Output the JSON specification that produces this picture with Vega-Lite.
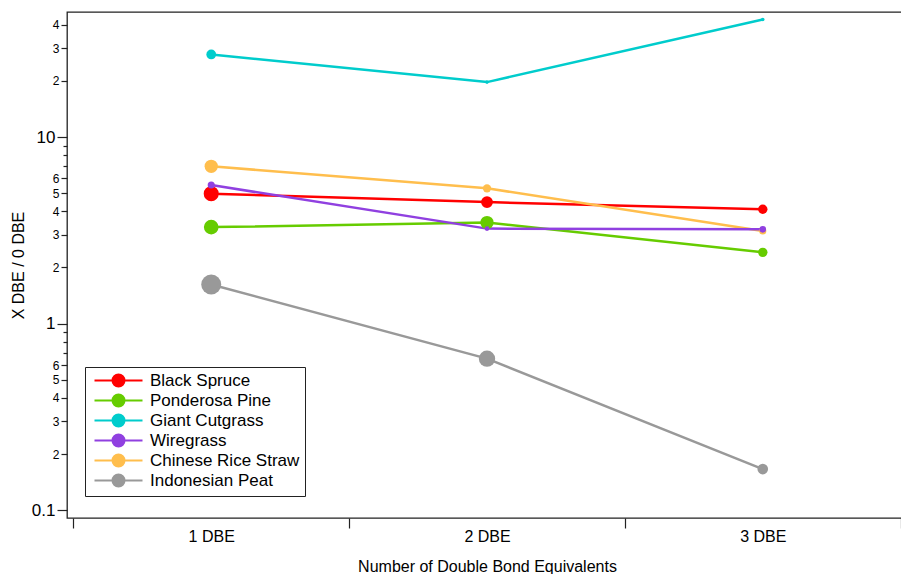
{
  "$schema": "https://vega.github.io/schema/vega-lite/v6.json",
  "width": 840,
  "height": 506,
  "autosize": {"type": "none"},
  "padding": {"left": 67, "top": 12, "right": 0, "bottom": 56},
  "background": "white",
  "config": {
    "view": {"stroke": "#222222", "strokeWidth": 1.3},
    "font": "Liberation Sans",
    "axis": {"labelFont": "Liberation Sans", "titleFont": "Liberation Sans", "labelColor": "black", "titleColor": "black", "tickColor": "#222222", "tickWidth": 1.2, "titleFontWeight": "normal"}
  },
  "data": {
    "values": [
      {"sample": "Black Spruce", "dbe": "1 DBE", "ratio": 4.97, "weight": 8.5},
      {"sample": "Black Spruce", "dbe": "2 DBE", "ratio": 4.48, "weight": 6.7},
      {"sample": "Black Spruce", "dbe": "3 DBE", "ratio": 4.10, "weight": 5.3},
      {"sample": "Ponderosa Pine", "dbe": "1 DBE", "ratio": 3.29, "weight": 8.3},
      {"sample": "Ponderosa Pine", "dbe": "2 DBE", "ratio": 3.48, "weight": 7.5},
      {"sample": "Ponderosa Pine", "dbe": "3 DBE", "ratio": 2.41, "weight": 5.3},
      {"sample": "Giant Cutgrass", "dbe": "1 DBE", "ratio": 27.7, "weight": 5.5},
      {"sample": "Giant Cutgrass", "dbe": "2 DBE", "ratio": 19.7, "weight": 2.0},
      {"sample": "Giant Cutgrass", "dbe": "3 DBE", "ratio": 42.7, "weight": 2.0},
      {"sample": "Chinese Rice Straw", "dbe": "1 DBE", "ratio": 6.97, "weight": 7.5},
      {"sample": "Chinese Rice Straw", "dbe": "2 DBE", "ratio": 5.31, "weight": 4.7},
      {"sample": "Chinese Rice Straw", "dbe": "3 DBE", "ratio": 3.14, "weight": 4.0},
      {"sample": "Wiregrass", "dbe": "1 DBE", "ratio": 5.53, "weight": 4.0},
      {"sample": "Wiregrass", "dbe": "2 DBE", "ratio": 3.23, "weight": 2.7},
      {"sample": "Wiregrass", "dbe": "3 DBE", "ratio": 3.20, "weight": 3.7},
      {"sample": "Indonesian Peat", "dbe": "1 DBE", "ratio": 1.62, "weight": 11.3},
      {"sample": "Indonesian Peat", "dbe": "2 DBE", "ratio": 0.649, "weight": 9.2},
      {"sample": "Indonesian Peat", "dbe": "3 DBE", "ratio": 0.166, "weight": 6.0}
    ]
  },
  "encoding": {
    "x": {
      "field": "dbe", "type": "nominal", "sort": ["1 DBE", "2 DBE", "3 DBE"],
      "scale": {"paddingInner": 0, "paddingOuter": 0.023},
      "axis": {
        "tickBand": "extent", "tickSize": 10, "domain": false, "labelAngle": 0,
        "labelFontSize": 16, "labelPadding": 0,
        "title": "Number of Double Bond Equivalents", "titleFontSize": 16,
        "titleY": 53, "titleBaseline": "alphabetic"
      }
    },
    "y": {
      "field": "ratio", "type": "quantitative",
      "scale": {"type": "log", "domain": [0.0908, 46.8], "nice": false},
      "axis": {
        "values": [0.1, 0.2, 0.3, 0.4, 0.5, 0.6, 0.7, 0.8, 0.9, 1, 2, 3, 4, 5, 6, 7, 8, 9, 10, 20, 30, 40],
        "labelExpr": "datum.value==0.1?'0.1':datum.value==1?'1':datum.value==10?'10':(round(datum.value/pow(10,floor(log(datum.value)/LN10+0.000001)))<=6?''+round(datum.value/pow(10,floor(log(datum.value)/LN10+0.000001))):'')",
        "labelFontSize": {"condition": {"test": "datum.value==0.1||datum.value==1||datum.value==10", "value": 17}, "value": 12},
        "tickSize": {"condition": [
          {"test": "datum.value==0.1||datum.value==1||datum.value==10", "value": 10},
          {"test": "round(datum.value/pow(10,floor(log(datum.value)/LN10+0.000001)))<=6", "value": 6}
        ], "value": 4},
        "labelPadding": 2,
        "domain": false, "grid": false,
        "title": "X DBE / 0 DBE", "titleFontSize": 16,
        "titleX": -48.7, "titleY": 253, "titleAlign": "center", "titleBaseline": "middle", "titleAngle": -90
      }
    },
    "color": {
      "field": "sample", "type": "nominal",
      "scale": {
        "domain": ["Black Spruce", "Ponderosa Pine", "Giant Cutgrass", "Wiregrass", "Chinese Rice Straw", "Indonesian Peat"],
        "range": ["#ff0000", "#66cc00", "#00cccc", "#9040e0", "#ffbe4d", "#999999"]
      },
      "legend": {
        "title": null, "orient": "none", "legendX": 18, "legendY": 355,
        "strokeColor": "#222222", "fillColor": "white", "padding": 5,
        "symbolType": "M-4,0H4M1,0A1,1,0,1,1,-1,0A1,1,0,1,1,1,0Z",
        "symbolSize": 144, "symbolStrokeWidth": 2,
        "symbolOffset": 20, "labelOffset": 23,
        "labelFontSize": 17, "labelFont": "Liberation Sans", "labelColor": "black",
        "rowPadding": -1,
        "encode": {"symbols": {"update": {"fill": {"scale": "color", "field": "value"}, "stroke": {"scale": "color", "field": "value"}, "opacity": {"value": 1}}}}
      }
    }
  },
  "layer": [
    {"mark": {"type": "line", "strokeWidth": 2.5}},
    {
      "mark": {"type": "circle", "opacity": 1},
      "encoding": {"size": {"field": "weight", "type": "quantitative", "scale": {"type": "pow", "exponent": 2, "domain": [0, 12], "range": [0, 452.4]}, "legend": null}}
    }
  ]
}
